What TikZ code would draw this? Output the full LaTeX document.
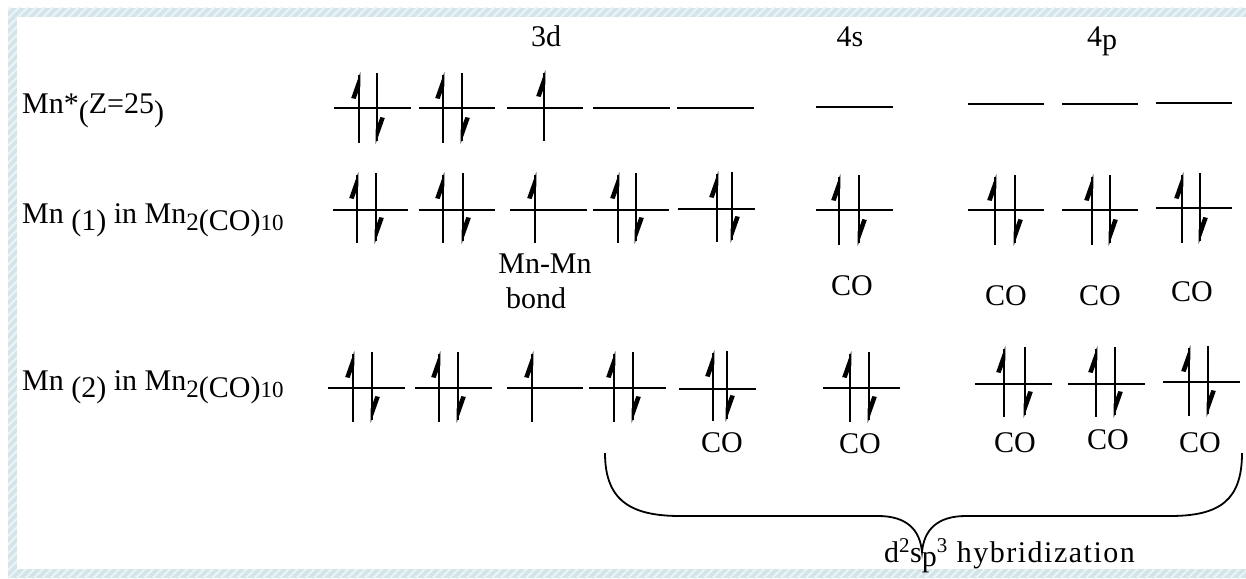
\documentclass[tikz,border=0pt]{standalone}
\usepackage{fontspec}
\setmainfont{Liberation Serif}
\usetikzlibrary{patterns.meta}
\definecolor{bandbase}{RGB}{212,229,234}
\definecolor{bandline}{RGB}{236,244,246}
\tikzset{
  lvl/.style={line width=2.6pt},
  shaft/.style={line width=2.9pt},
  lbl/.style={inner sep=0pt, font=\fontsize{30}{35}\selectfont},
  band/.style={fill=bandbase, draw=none},
  bandhatch/.style={pattern={Lines[angle=45,distance=6pt,line width=2pt]}, pattern color=bandline},
  pics/upe/.style={code={
    \draw[shaft] (0,-33) -- (0,35);
    \fill (1.4,-36) -- (-7.8,-10) -- (-3.4,-9) -- (1.4,-22) -- cycle;
  }},
  pics/dne/.style={code={
    \draw[shaft] (0,-35) -- (0,33);
    \fill (-1.4,36) -- (7.8,10) -- (3.4,9) -- (-1.4,22) -- cycle;
  }},
}
\begin{document}
\begin{tikzpicture}[x=1pt,y=-1pt]
\useasboundingbox (0,0) rectangle (1246,578);
% border bands
\fill[band] (8,8) rectangle (1246,17);
\fill[band] (8,8) rectangle (17,578);
\fill[band] (8,569) rectangle (1246,578);
\fill[bandhatch] (8,8) rectangle (1246,17);
\fill[bandhatch] (8,17) rectangle (17,578);
\fill[bandhatch] (17,569) rectangle (1246,578);

% headers
\node[lbl,anchor=base] (h3d) at (546,46) {3d};
\node[lbl,anchor=base] (h4s) at (850,46) {4s};
\node[lbl,anchor=base] (h4p) at (1102,46) {4\raisebox{-3pt}{p}};

% row labels
\node[lbl,anchor=base west] (r1) at (22,113) {Mn*\raisebox{-8pt}{(}Z=25\raisebox{-8pt}{)}};
\node[lbl,anchor=base west] (r2) at (22,223) {Mn \raisebox{-7pt}{(1)} in Mn\raisebox{-7pt}{{\fontsize{25}{25}\selectfont 2}(CO){\fontsize{23}{23}\selectfont 10}}};
\node[lbl,anchor=base west] (r3) at (22,390) {Mn \raisebox{-7pt}{(2)} in Mn\raisebox{-7pt}{{\fontsize{25}{25}\selectfont 2}(CO){\fontsize{23}{23}\selectfont 10}}};

% ---- row 1 : Mn*
\draw[lvl] (334,108) -- (411,108);
\draw[lvl] (419,108) -- (495,108);
\draw[lvl] (507,108) -- (583,108);
\draw[lvl] (593,108) -- (670,108);
\draw[lvl] (677,108) -- (754,108);
\draw[lvl] (816,107) -- (893,107);
\draw[lvl] (968,104) -- (1044,104);
\draw[lvl] (1062,104) -- (1138,104);
\draw[lvl] (1156,103) -- (1232,103);
\pic at (359,108) {upe}; \pic at (377,108) {dne};
\pic at (443,108) {upe}; \pic at (462,108) {dne};
\pic at (544,106) {upe};

% ---- row 2 : Mn(1)
\draw[lvl] (333,210) -- (408,210);
\draw[lvl] (419,210) -- (495,210);
\draw[lvl] (510,210) -- (587,210);
\draw[lvl] (593,210) -- (669,210);
\draw[lvl] (678,209) -- (755,209);
\draw[lvl] (816,210) -- (893,210);
\draw[lvl] (968,210) -- (1044,210);
\draw[lvl] (1062,210) -- (1138,210);
\draw[lvl] (1156,208) -- (1232,208);
\pic at (357,208) {upe}; \pic at (376,208) {dne};
\pic at (443,208) {upe}; \pic at (463,208) {dne};
\pic at (535,208) {upe};
\pic at (618,208) {upe}; \pic at (636,208) {dne};
\pic at (717,207) {upe}; \pic at (732,207) {dne};
\pic at (839,210) {upe}; \pic at (859,210) {dne};
\pic at (995,210) {upe}; \pic at (1015,210) {dne};
\pic at (1092,210) {upe}; \pic at (1110,210) {dne};
\pic at (1182,208) {upe}; \pic at (1200,208) {dne};

\node[lbl,anchor=base] (mnmn) at (545,273) {Mn-Mn};
\node[lbl,anchor=base] (bond) at (536,308) {bond};
\node[lbl] (co1) at (852,286) {CO};
\node[lbl] (co2) at (1006,296) {CO};
\node[lbl] (co3) at (1100,296) {CO};
\node[lbl] (co4) at (1192,292) {CO};

% ---- row 3 : Mn(2)
\draw[lvl] (328,388) -- (405,388);
\draw[lvl] (415,388) -- (492,388);
\draw[lvl] (507,388) -- (583,388);
\draw[lvl] (589,388) -- (666,388);
\draw[lvl] (679,389) -- (756,389);
\draw[lvl] (823,388) -- (900,388);
\draw[lvl] (975,384) -- (1052,384);
\draw[lvl] (1068,384) -- (1145,384);
\draw[lvl] (1163,382) -- (1240,382);
\pic at (353,387) {upe}; \pic at (372,387) {dne};
\pic at (439,387) {upe}; \pic at (458,387) {dne};
\pic at (532,387) {upe};
\pic at (614,387) {upe}; \pic at (633,387) {dne};
\pic at (713,386) {upe}; \pic at (727,386) {dne};
\pic at (850,387) {upe}; \pic at (869,387) {dne};
\pic at (1004,382) {upe}; \pic at (1025,382) {dne};
\pic at (1096,382) {upe}; \pic at (1115,382) {dne};
\pic at (1189,381) {upe}; \pic at (1208,381) {dne};

\node[lbl] (co5) at (722,443) {CO};
\node[lbl] (co6) at (860,444) {CO};
\node[lbl] (co7) at (1015,443) {CO};
\node[lbl] (co8) at (1108,440) {CO};
\node[lbl] (co9) at (1200,443) {CO};

% brace
\draw[line width=1.8pt] (605,453) .. controls (605,500) and (630,516) .. (680,516)
  -- (878,516) .. controls (907,516) and (920,530) .. (922,552)
  .. controls (924,530) and (937,516) .. (966,516)
  -- (1170,516) .. controls (1220,516) and (1242,500) .. (1242,453);
\node[lbl,anchor=base west] (hyb) at (884,562) {\addfontfeatures{LetterSpace=5}d\textsuperscript{2}s\raisebox{-4pt}{p}\textsuperscript{3} hybridization};
\end{tikzpicture}
\end{document}
